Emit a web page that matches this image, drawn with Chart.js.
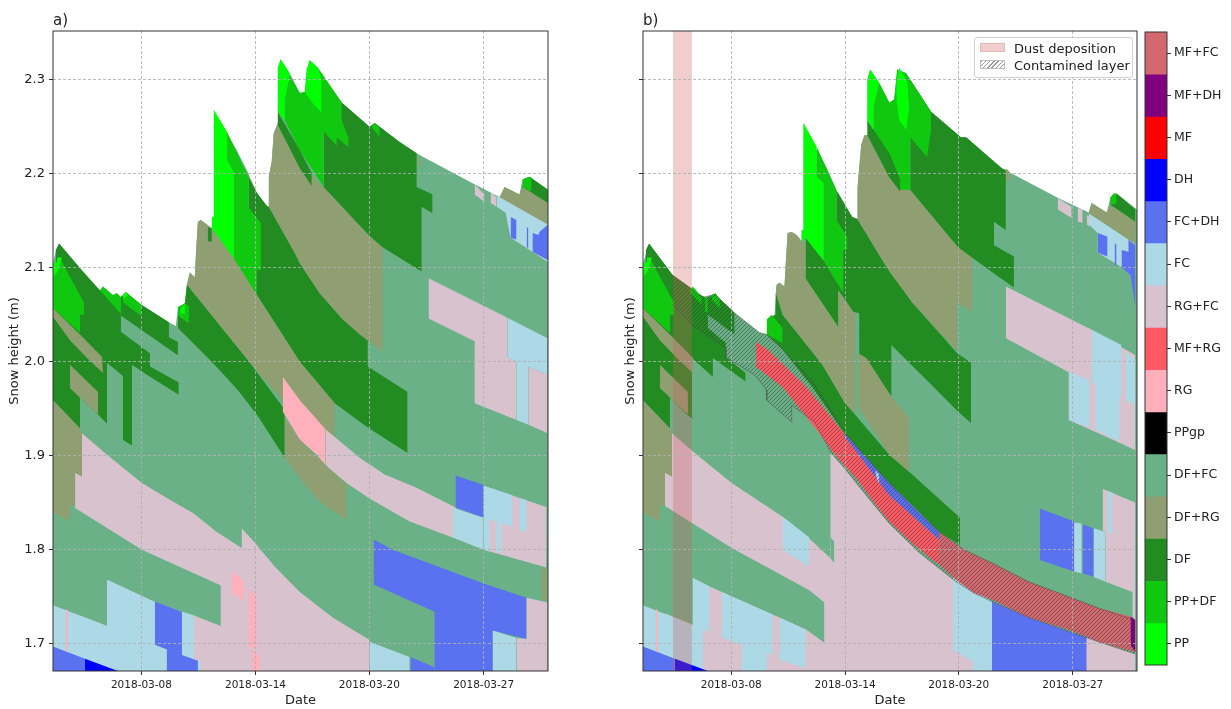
<!DOCTYPE html>
<html>
<head>
<meta charset="utf-8">
<title>Snow stratigraphy</title>
<script src="https://cdn.jsdelivr.net/npm/chart.js@4/dist/chart.umd.js"></script>
<style>
    html, body { margin: 0; padding: 0; background: #fff; width: 1231px; height: 709px; overflow: hidden; }
    canvas { position: absolute; top: 0; }
    #chart-a { left: 0; }
    #chart-b { left: 590px; }
    #chart-bar { left: 1140px; }
    #legend {
        position: absolute; left: 974px; top: 37px; width: 157px; height: 39px;
        background: rgba(255, 255, 255, 0.85); border: 1px solid #d0d0d0; border-radius: 3px;
        font: 13px "DejaVu Sans", sans-serif; color: #222;
    }
    #legend div { position: absolute; left: 39px; white-space: nowrap; }
    #legend span { position: absolute; left: 5px; width: 25px; height: 9px; border: 1px solid #bbb; box-sizing: border-box; }
</style>
</head>
<body>
<canvas id="chart-a" width="560" height="709"></canvas>
<canvas id="chart-b" width="560" height="709"></canvas>
<canvas id="chart-bar" width="91" height="709"></canvas>
<div id="legend">
    <span style="top:5px;background:rgba(205,92,92,0.3);border-color:rgba(205,92,92,0.2)"></span><div style="top:3px">Dust deposition</div>
    <span style="top:22px;background:repeating-linear-gradient(135deg,#999 0 1px,#fff 1px 3px)"></span><div style="top:20px">Contamined layer</div>
</div>
<script>
// grain types of the colour bar, bottom to top
const grainTypes = ['PP', 'PP+DF', 'DF', 'DF+RG', 'DF+FC', 'PPgp', 'RG', 'MF+RG', 'RG+FC', 'FC', 'FC+DH', 'DH', 'MF', 'MF+DH', 'MF+FC'];
const grainColors = ['#00ff00', '#10c810', '#228b22', '#8f9f72', '#6ab187', '#000000', '#ffb0bb', '#ff5a64', '#d8c2ce', '#add8e6', '#5a72f0', '#0000ff', '#ff0000', '#800080', '#d2696e'];

// x = 3-hourly time step, y = snow height (m)
const xTickSteps = [39.3, 90, 140.6, 191.4];
const xTickLabels = ['2018-03-08', '2018-03-14', '2018-03-20', '2018-03-27'];
const yTickValues = [1.7, 1.8, 1.9, 2.0, 2.1, 2.2, 2.3];
const dustStepsB = [13.3, 21.8];

const surfaceA = [0,2.105, 1.3,2.119, 2.7,2.126, 13.3,2.096, 20.9,2.076, 22.2,2.080, 26.6,2.071, 28.4,2.073, 30.2,2.069, 32.4,2.074, 39.1,2.061, 51.5,2.042, 54.6,2.038, 55.5,2.058, 58.6,2.062, 59.5,2.082, 60.8,2.095, 63,2.090, 63.5,2.114, 64.4,2.149, 65.7,2.151, 68.4,2.146, 70.6,2.142, 70.6,2.154, 71.5,2.154, 71.5,2.268, 75.5,2.250, 81.7,2.225, 86.1,2.204, 90.6,2.180, 95,2.166, 95.9,2.165, 95.9,2.197, 97.2,2.213, 98.1,2.243, 99.9,2.254, 99.9,2.313, 101.2,2.322, 105.2,2.307, 109.7,2.286, 111.9,2.287, 112.8,2.311, 114.1,2.321, 117.7,2.313, 128.3,2.276, 140.7,2.250, 143,2.254, 154.1,2.234, 162.9,2.220, 186.5,2.190, 198.5,2.175, 200.7,2.186, 207.3,2.178, 208.7,2.194, 211.8,2.197, 220,2.183];
const surfaceB = [0,2.105, 2.7,2.126, 13.3,2.092, 20.9,2.079, 24.4,2.071, 27.5,2.069, 32,2.072, 40.8,2.052, 51.9,2.031, 55.1,2.029, 55.5,2.045, 58.6,2.050, 59.5,2.082, 60.8,2.084, 63,2.080, 63.5,2.102, 64.4,2.137, 66.2,2.138, 68.4,2.135, 70.6,2.128, 70.6,2.140, 71.5,2.140, 71.5,2.254, 75.5,2.233, 81.7,2.207, 87.5,2.175, 93.2,2.154, 95.5,2.152, 95.5,2.185, 97.2,2.231, 98.6,2.241, 99.9,2.241, 99.9,2.300, 101.2,2.311, 105.2,2.297, 109.7,2.276, 111.9,2.279, 113.2,2.311, 117.2,2.307, 128.3,2.266, 141.6,2.239, 143.9,2.239, 159.8,2.206, 185.1,2.174, 198.5,2.159, 199.8,2.169, 206.5,2.159, 208.2,2.175, 210.9,2.179, 220,2.162];

// layers common to both panels at the start of the season: [type, upper edge, lower edge]
const earlyLayers = [
    ['FC+DH', [0,1.697, 14.2,1.684]],
    ['DH', [14.2,1.684, 28.9,1.671]],
    ['RG', [5.8,1.737, 6.7,1.735], [5.8,1.692, 6.7,1.691]],
    ['DF+RG', [0,1.959, 12,1.929, 12.9,1.924], [0,1.840, 7.5,1.830, 7.5,1.848, 9.8,1.846, 9.8,1.882, 12.9,1.878]],
    ['DF+RG', [0,2.057, 12,2.029, 21.8,2.005, 22.2,2.005], [0,2.048, 7.5,2.023, 15.1,2.004, 22.2,1.988]],
    ['DF+RG', [7.5,1.997, 20,1.968], [7.5,1.972, 20,1.944]],
    ['PP+DF', [0,2.090, 1.8,2.095, 3.1,2.111, 5.8,2.098, 13.8,2.063, 13.8,2.050], [0,2.057, 12,2.031, 12,2.050, 13.8,2.050]],
    ['PP', [0,2.105, 1.8,2.106, 1.8,2.111, 4,2.111], [0,2.090, 1.8,2.095, 4,2.111]]
];

const layersA = [
    ['DF+FC', surfaceA],
    ['RG+FC', [9.8,1.882, 12.9,1.878, 12.9,1.924, 24,1.901, 39.5,1.871, 50.6,1.855, 62.2,1.839, 72.8,1.819, 83.9,1.802, 83.9,1.823, 90.6,1.805, 98.6,1.782, 109.7,1.755, 124.3,1.728, 140.7,1.704]],
    ['DF+FC', [0,1.839, 7.5,1.830, 7.5,1.848, 39.5,1.800, 74.6,1.762], [0,1.741, 24,1.719, 24,1.768, 44.8,1.745, 57.3,1.734, 62.6,1.730, 74.6,1.719]],
    ['FC', [0,1.741, 24,1.719, 24,1.768, 44.8,1.745, 57.3,1.734, 62.6,1.730]],
    ['FC', [64.4,1.682, 65.7,1.681]],
    ['FC+DH', [45.3,1.745, 57.3,1.734, 57.3,1.688, 64.4,1.682], [45.3,1.699, 50.6,1.694, 50.6,1.671, 64.4,1.671]],
    ['RG', [79.5,1.778, 84.8,1.766], [79.5,1.754, 84.8,1.745]],
    ['RG', [87,1.759, 90.6,1.750], [87,1.696, 90.6,1.696]],
    ['RG', [88.4,1.696, 91.9,1.685]],
    ['DF', [0,2.082, 1.3,2.098, 1.3,2.119, 2.7,2.126, 13.3,2.096, 20.9,2.076, 30.2,2.061, 30.2,2.032, 43.1,2.009], [0,1.959, 12,1.929, 12,1.962, 20,1.944, 24,1.934, 24,1.999, 31.1,1.985, 31.1,1.917, 35.1,1.911, 35.1,1.997, 43.1,1.984]],
    ['DF', [43.1,1.995, 55.9,1.978], [43.1,1.984, 55.9,1.965]],
    ['DF', [30.2,2.069, 32.4,2.074, 39.1,2.061, 51.5,2.042, 51.5,2.026, 55.5,2.021], [30.2,2.049, 55.5,2.007]],
    ...earlyLayers,
    ['PP+DF', [20.9,2.076, 22.2,2.080, 26.6,2.071, 28.4,2.073, 30.2,2.069], [20.9,2.076, 30.2,2.051]],
    ['PP+DF', [31.1,2.071, 32.4,2.074, 39.1,2.061], [31.1,2.063, 39.1,2.049]],
    ['PP', [31.1,2.071, 32.4,2.074, 33.3,2.071], [31.1,2.066, 33.3,2.071]],
    ['DF', [87,2.196, 90.6,2.180, 95,2.166, 95.9,2.165, 107.4,2.116, 109.7,2.105, 118.5,2.073, 128.8,2.045, 139.9,2.023, 139.9,1.995, 157.6,1.968], [87,2.108, 90.6,2.071, 109.7,2.000, 125.2,1.956, 139.9,1.930, 157.6,1.903]],
    ['DF+RG', [59.5,2.082, 60.8,2.095, 63,2.090, 63.5,2.114, 64.4,2.149, 65.7,2.151, 68.4,2.146, 70.6,2.142, 80.4,2.110, 90.6,2.071, 109.7,2.000, 125.2,1.956, 125.2,1.920], [59.5,2.082, 87.5,1.999, 102.1,1.959, 109.7,1.938, 121.2,1.928, 125.2,1.920]],
    ['DF', [68.8,2.143, 70.6,2.142], [68.8,2.128, 70.6,2.128]],
    ['DF', [55.5,2.058, 58.6,2.062, 59.5,2.082, 87.5,1.999, 102.1,1.952, 103,1.949], [55.5,2.036, 71,1.999, 82.1,1.970, 90.6,1.944, 103,1.898]],
    ['PP+DF', [55.5,2.058, 58.6,2.062, 60.4,2.059], [55.5,2.049, 60.4,2.041]],
    ['PP', [56.8,2.056, 58.6,2.062], [56.8,2.052, 58.6,2.051]],
    ['RG+FC', [121.2,1.928, 136.3,1.898, 147.4,1.880, 161.6,1.866, 178.9,1.845], [121.2,1.890, 130.5,1.871, 140.3,1.855, 158.5,1.830, 177.6,1.813, 178.9,1.812]],
    ['RG', [102.1,1.984, 109.7,1.959, 121.2,1.928], [102.1,1.947, 109.7,1.917, 117.2,1.901, 121.2,1.890]],
    ['DF+RG', [103,1.941, 109.7,1.917, 121.2,1.890, 130.5,1.869], [103,1.899, 109.7,1.876, 118.5,1.851, 130.5,1.832]],
    ['DF+RG', [95.9,2.165, 95.9,2.197, 97.2,2.213, 98.1,2.243, 99.9,2.254, 109.7,2.206, 115,2.199, 120.3,2.186, 140.3,2.135, 146.5,2.122], [95.9,2.165, 107.4,2.116, 109.7,2.105, 118.5,2.073, 128.8,2.045, 136.3,2.029, 146.5,2.011]],
    ['DF', [120.3,2.303, 128.3,2.276, 140.7,2.250, 143,2.254, 154.1,2.234, 161.6,2.222, 161.6,2.186, 168.7,2.178], [120.3,2.186, 140.3,2.135, 146.5,2.122, 163.8,2.096, 163.8,2.165, 168.7,2.158]],
    ['PP+DF', [103,2.279, 105.2,2.305, 109.7,2.286, 111.9,2.287, 114.1,2.321, 117.7,2.313, 128.3,2.276, 128.3,2.257, 131.4,2.238], [103,2.257, 109.7,2.225, 120.3,2.186, 120.3,2.245, 126.1,2.230, 126.1,2.239, 131.4,2.228]],
    ['DF', [99.9,2.266, 109.7,2.225, 115,2.201], [99.9,2.252, 109.7,2.206, 115,2.187]],
    ['PP', [99.9,2.313, 101.2,2.322, 105.2,2.307], [99.9,2.266, 103,2.257, 103,2.279, 105.2,2.305]],
    ['PP', [111.9,2.287, 112.8,2.311, 114.1,2.321, 117.7,2.313, 119.4,2.300], [111.9,2.287, 115.4,2.275, 119.4,2.265]],
    ['PP+DF', [141.6,2.251, 143,2.254, 145.2,2.249], [141.6,2.250, 145.2,2.239]],
    ['DF+RG', [162.5,2.220, 163.4,2.219], [162.5,2.207, 163.4,2.207]],
    ['PP+DF', [77.3,2.245, 87,2.196, 87,2.164, 92.4,2.148], [77.3,2.215, 80.4,2.201, 80.4,2.110, 90.6,2.071, 90.6,2.098, 92.4,2.098]],
    ['PP', [70.6,2.154, 71.5,2.154, 71.5,2.268, 77.3,2.245, 77.3,2.215, 80.4,2.201], [70.6,2.142, 80.4,2.110]],
    ['FC+DH', [142.5,1.811, 151,1.800, 191.4,1.764, 210.5,1.749], [142.5,1.763, 169.6,1.734, 169.6,1.671, 195.4,1.671, 195.4,1.714, 210.5,1.705]],
    ['FC+DH', [158.9,1.686, 169.6,1.675]],
    ['FC', [140.7,1.702, 158.5,1.686]],
    ['FC', [195.4,1.714, 206,1.706]],
    ['RG+FC', [206,1.706, 210.5,1.705, 210.5,1.749, 219.8,1.744]],
    ['RG+FC', [191.4,1.868, 219.8,1.845], [191.4,1.800, 219.3,1.781]],
    ['FC+DH', [178.9,1.879, 191.4,1.869], [178.9,1.845, 191.4,1.834]],
    ['FC', [177.6,1.845, 191.4,1.834], [177.6,1.813, 191.4,1.800]],
    ['FC', [191.4,1.868, 204.2,1.858], [191.4,1.800, 194,1.798, 194,1.832, 197.1,1.830, 197.1,1.797, 199.4,1.797, 199.4,1.829, 204.2,1.824]],
    ['FC', [207.3,1.855, 210.5,1.853], [207.3,1.821, 210.5,1.819]],
    ['DF+RG', [217.1,1.781, 219.3,1.779], [217.1,1.747, 219.3,1.745]],
    ['RG+FC', [166.9,2.089, 202,2.047, 202,2.005, 206,2.000], [166.9,2.046, 187.4,2.022, 187.4,1.956, 206,1.938]],
    ['FC', [202,2.047, 219.8,2.025], [202,2.005, 206,2.000, 206,1.938, 211.3,1.933, 211.3,1.995, 219.8,1.986]],
    ['RG+FC', [211.3,1.995, 219.8,1.986], [211.3,1.933, 219.8,1.924]],
    ['RG+FC', [187.4,2.189, 191.8,2.178], [187.4,2.178, 191.8,2.170]],
    ['RG+FC', [194.5,2.181, 197.1,2.175], [194.5,2.169, 197.1,2.165]],
    ['FC', [197.1,2.178, 220,2.146], [197.1,2.165, 201.1,2.159, 203.4,2.132, 213.1,2.117, 220,2.106]],
    ['DF+RG', [198.5,2.175, 200.7,2.186, 207.3,2.178, 208.7,2.186, 220,2.169], [198.5,2.175, 220,2.146]],
    ['DF', [208.7,2.186, 208.7,2.194, 211.8,2.197, 220,2.183], [208.7,2.186, 220,2.169]],
    ['PP+DF', [208.7,2.194, 211.8,2.197, 212.7,2.196], [208.7,2.186, 212.7,2.181]],
    ['FC+DH', [203.4,2.154, 206,2.151], [203.4,2.132, 206,2.130]],
    ['FC+DH', [210.5,2.143, 211.3,2.143], [210.5,2.122, 211.3,2.121]],
    ['FC+DH', [213.1,2.137, 215.8,2.135, 216.2,2.138, 220,2.146], [213.1,2.117, 220,2.108]]
];

const layersB = [
    ['DF+FC', surfaceB],
    ['RG+FC', [9.8,1.882, 12.9,1.878, 12.9,1.924, 24,1.901, 39.5,1.871, 62.2,1.835, 74.1,1.812, 83.5,1.791, 83.5,1.903, 89.7,1.887, 95,1.871, 102.1,1.850, 109.7,1.828, 123,1.797, 139.4,1.766, 147.4,1.754, 155.4,1.745, 171.8,1.728, 189.6,1.713, 202.9,1.702, 219.3,1.689]],
    ['DF+FC', [83.5,1.814, 85.2,1.808], [83.5,1.791, 85.2,1.786]],
    ['FC', [62.2,1.835, 74.1,1.813], [62.2,1.800, 74.1,1.782]],
    ['DF+FC', [0,1.839, 7.5,1.830, 7.5,1.850, 39.5,1.802, 74.1,1.757, 80.8,1.744], [0,1.741, 13.3,1.729, 22.2,1.720, 22.2,1.770, 29.7,1.761, 35.1,1.755, 57.7,1.731, 60.8,1.728, 72.8,1.715, 80.8,1.701]],
    ['FC', [0,1.741, 22.2,1.720, 22.2,1.770, 29.7,1.761], [0,1.671, 26.6,1.671, 26.6,1.715, 29.7,1.713]],
    ['FC', [35.1,1.755, 57.7,1.731], [35.1,1.707, 44,1.699, 44,1.671, 55.1,1.671, 55.1,1.690, 57.7,1.688]],
    ['FC', [60.8,1.728, 72.4,1.715], [60.8,1.683, 72.4,1.674]],
    ['DF', [0,2.082, 1.3,2.098, 1.3,2.119, 2.7,2.126, 13.3,2.092, 20.9,2.079, 28.9,2.066, 28.9,2.036, 36.9,2.020, 36.9,2.005, 45.7,1.988], [0,1.959, 12,1.929, 12,1.962, 19.5,1.944, 21.8,1.940, 21.8,2.004, 31.1,1.984, 31.1,2.004, 45.7,1.979]],
    ['DF', [28.9,2.068, 32,2.072, 40.8,2.052], [28.9,2.050, 40.8,2.029]],
    ...earlyLayers,
    ['PP+DF', [20.9,2.076, 22.2,2.080, 26.2,2.069], [20.9,2.074, 26.2,2.061]],
    ['PP+DF', [30.6,2.071, 32.4,2.073, 34.2,2.066], [30.6,2.066, 34.2,2.057]],
    ['PP+DF', [27.5,2.069, 28.9,2.069], [27.5,2.053, 28.9,2.053]],
    ['DF', [55.1,2.045, 59.1,2.050, 59.1,2.074, 62.2,2.050, 79.9,1.997, 89.7,1.957, 109.7,1.901, 118.5,1.883, 140.7,1.835, 141.2,1.835], [55.1,2.029, 62.2,2.013, 75.5,1.973, 89.7,1.924, 111,1.866, 131.9,1.819, 141.2,1.805]],
    ['PP+DF', [55.1,2.045, 57.3,2.050, 62.2,2.036], [55.1,2.029, 62.2,2.020]],
    ['DF', [86.1,2.183, 93.2,2.154, 95.5,2.152, 107.9,2.103, 109.7,2.098, 119.9,2.063, 131.9,2.031, 139.9,2.009, 146.1,1.999], [86.1,2.079, 93.7,2.053, 96.3,2.052, 96.3,2.005, 110.6,1.963, 110.6,2.018, 127.4,1.978, 140.7,1.946, 146.1,1.935]],
    ['DF+RG', [59.1,2.074, 59.5,2.082, 60.8,2.084, 63,2.080, 63.5,2.102, 64.4,2.137, 66.2,2.138, 68.4,2.135, 72.4,2.124, 72.4,2.089, 87,2.037, 87,2.076, 93.7,2.053, 94.6,2.052], [59.1,2.074, 62.2,2.050, 79.9,1.997, 89.7,1.957, 94.6,1.944]],
    ['DF+RG', [95.9,2.009, 99.5,2.004, 110.6,1.963, 118.5,1.940], [95.9,1.952, 109.7,1.901, 118.5,1.883]],
    ['DF', [72.4,2.132, 80.4,2.108, 87,2.082], [72.4,2.089, 87,2.037]],
    ['DF+RG', [95.5,2.152, 95.5,2.185, 97.2,2.231, 98.6,2.241, 99.9,2.241, 109.7,2.196, 114.6,2.194, 119,2.183, 140.3,2.122, 146.5,2.111], [95.5,2.152, 107.9,2.103, 109.7,2.096, 119.9,2.063, 139.9,2.011, 139.9,2.063, 146.5,2.053]],
    ['DF', [119,2.300, 128.3,2.266, 141.6,2.239, 143.9,2.239, 159.8,2.206, 161.6,2.204], [119,2.183, 140.3,2.122, 156.3,2.094, 156.3,2.149, 161.6,2.140]],
    ['DF', [156.3,2.124, 165.2,2.112], [156.3,2.094, 165.2,2.079]],
    ['PP+DF', [102.6,2.271, 105.2,2.297, 109.7,2.276, 111.9,2.279, 113.2,2.311, 117.2,2.307, 128.3,2.266], [102.6,2.247, 109.7,2.209, 114.6,2.183, 119,2.183, 119,2.239, 126.5,2.218, 128.3,2.247]],
    ['DF', [99.9,2.257, 109.7,2.222, 114.6,2.194], [99.9,2.241, 109.7,2.196, 114.6,2.181]],
    ['PP', [99.9,2.300, 101.2,2.311, 105.2,2.297], [99.9,2.257, 102.6,2.247, 102.6,2.271, 105.2,2.297]],
    ['PP', [112.8,2.297, 114.1,2.313, 117.7,2.298, 118.5,2.270], [112.8,2.279, 114.1,2.257, 117.2,2.247, 118.5,2.270]],
    ['PP+DF', [77.3,2.229, 86.1,2.183, 86.1,2.151, 91,2.133], [77.3,2.197, 80.4,2.190, 80.4,2.108, 89.2,2.073, 89.2,2.119, 91,2.119]],
    ['PP', [70.6,2.140, 71.5,2.140, 71.5,2.254, 77.3,2.229, 77.3,2.197, 80.4,2.190], [70.6,2.128, 72.4,2.132, 80.4,2.108]],
    ['DF+RG', [161.6,2.206, 163.4,2.202], [161.6,2.193, 163.4,2.193]],
    ['RG+FC', [161.6,2.080, 199.8,2.034, 214.9,2.013, 219.3,2.007], [161.6,2.025, 189.6,1.989, 189.6,1.938, 212.2,1.914, 219.3,1.906]],
    ['FC', [199.8,2.034, 213.1,2.018], [199.8,1.979, 201.6,1.975, 201.6,1.928, 212.2,1.915, 212.2,1.963, 213.1,1.965]],
    ['FC', [189.6,1.989, 198.9,1.981], [189.6,1.938, 198.9,1.930]],
    ['FC', [214.9,2.011, 219.3,2.002], [214.9,1.959, 219.3,1.954]],
    ['FC+DH', [176.7,1.844, 192,1.830], [176.7,1.789, 192,1.777]],
    ['FC', [192,1.829, 195.4,1.828], [192,1.777, 195.4,1.775]],
    ['FC+DH', [195.8,1.827, 200.7,1.823], [195.8,1.775, 200.7,1.771]],
    ['RG+FC', [204.7,1.865, 219.3,1.850], [204.7,1.820, 206,1.819, 206,1.766, 218,1.755, 218,1.729, 219.3,1.725]],
    ['FC', [200.7,1.823, 206,1.819], [200.7,1.771, 206,1.766]],
    ['FC', [206.9,1.862, 209.1,1.861], [206.9,1.818, 209.1,1.817]],
    ['FC', [198.5,2.158, 216.2,2.132, 219.3,2.125], [198.5,2.146, 202.5,2.137, 202.5,2.116, 213.1,2.101, 219.3,2.092]],
    ['DF+RG', [198.5,2.159, 199.8,2.169, 206.5,2.159, 208.2,2.167, 219.3,2.149], [198.5,2.158, 219.3,2.125]],
    ['DF', [208.2,2.175, 210.9,2.179, 219.3,2.162], [208.2,2.167, 219.3,2.149]],
    ['PP+DF', [208.2,2.175, 209.6,2.179, 210.9,2.179], [208.2,2.168, 210.9,2.168]],
    ['RG+FC', [184.7,2.174, 190.9,2.165], [184.7,2.162, 190.9,2.153]],
    ['RG+FC', [193.6,2.164, 195.8,2.162], [193.6,2.149, 195.8,2.148]],
    ['RG+FC', [197.6,2.156, 198.9,2.155], [197.6,2.146, 198.9,2.144]],
    ['FC+DH', [202.5,2.137, 206.9,2.133], [202.5,2.116, 206.9,2.112]],
    ['FC+DH', [210,2.126, 210.9,2.125], [210,2.103, 210.9,2.102]],
    ['FC+DH', [213.1,2.119, 216.2,2.117, 216.2,2.130, 219.3,2.124], [213.1,2.101, 217.1,2.092, 219.3,2.058]],
    ['FC', [138.1,1.771, 155.4,1.745], [138.1,1.693, 147,1.681, 147,1.671, 155.4,1.671]],
    ['FC+DH', [155.4,1.745, 171.8,1.728, 189.6,1.713, 197.6,1.707], [155.4,1.671, 197.6,1.671]],
    ['MF+RG', [50.2,2.021, 55.5,2.013, 72.8,1.973, 81.7,1.947, 90.6,1.920, 99.9,1.890, 109.7,1.861, 120.8,1.834, 131.9,1.811], [50.2,1.995, 62.2,1.973, 78.6,1.924, 83.9,1.906, 89.7,1.890, 95,1.876, 102.1,1.853, 109.7,1.830, 120.8,1.805, 131.9,1.784]],
    ['FC+DH', [89.7,1.924, 109.7,1.871, 131.9,1.819], [89.7,1.921, 109.7,1.858, 131.9,1.811]],
    ['FC', [103.5,1.885, 105.2,1.880], [103.5,1.880, 105.2,1.870]],
    ['MF+FC', [131.9,1.819, 143,1.800, 155.4,1.786, 171.8,1.766, 189.6,1.750, 202.9,1.738, 217.1,1.729, 219.3,1.725], [131.9,1.784, 139.4,1.768, 147.4,1.754, 155.4,1.747, 171.8,1.728, 189.6,1.715, 202.9,1.702, 219.3,1.691]],
    ['MF+DH', [217.1,1.729, 219.3,1.725], [217.1,1.699, 219.3,1.691]]
];

const hatchTopB = [13.3,2.092, 20.9,2.079, 24.4,2.071, 27.5,2.069, 32,2.072, 40.8,2.052, 51.9,2.031, 55.1,2.029, 62.2,2.013, 75.5,1.979, 83,1.951, 89.7,1.925, 99.5,1.898, 109.7,1.871, 120.8,1.842, 131.9,1.819, 143,1.800, 155.4,1.786, 171.8,1.766, 189.6,1.750, 202.9,1.738, 219.3,1.725];
const hatchBottomB = [13.3,2.061, 15.5,2.055, 21.8,2.039, 36.9,2.015, 36.9,2.005, 49.7,1.986, 55.1,1.970, 55.1,1.959, 66.2,1.936, 66.2,1.954, 76.4,1.936, 83.9,1.903, 89.7,1.887, 95,1.871, 102.1,1.850, 109.7,1.828, 123,1.797, 139.4,1.766, 147.4,1.754, 155.4,1.745, 171.8,1.728, 189.6,1.713, 202.9,1.702, 219.3,1.689];

function toPoints(flat) {
    const pts = [];
    for (let i = 0; i < flat.length; i += 2) {
        pts.push({ x: flat[i], y: flat[i + 1] });
    }
    return pts;
}

function hatchPattern() {
    const tile = document.createElement('canvas');
    tile.width = 4;
    tile.height = 4;
    const c = tile.getContext('2d');
    c.strokeStyle = 'rgba(50, 50, 50, 0.5)';
    c.lineWidth = 1;
    c.beginPath();
    c.moveTo(-1, 5); c.lineTo(5, -1);
    c.moveTo(-1, 1); c.lineTo(1, -1);
    c.moveTo(3, 5); c.lineTo(5, 3);
    c.stroke();
    return c.createPattern(tile, 'repeat');
}

// one dataset per edge, the upper edge fills down to the lower one (or to the axis)
function layerDatasets(layers) {
    const sets = [];
    layers.forEach((layer) => {
        const color = grainColors[grainTypes.indexOf(layer[0])];
        sets.push({ data: toPoints(layer[1]), backgroundColor: color, fill: layer[2] ? '+1' : 'start', borderWidth: 0 });
        if (layer[2]) {
            sets.push({ data: toPoints(layer[2]), fill: false, borderWidth: 0 });
        }
    });
    return sets;
}

const framePlugin = {
    id: 'frame',
    afterDraw(chart) {
        const a = chart.chartArea;
        const c = chart.ctx;
        c.save();
        c.strokeStyle = '#333';
        c.lineWidth = 1;
        c.strokeRect(a.left, a.top, a.right - a.left, a.bottom - a.top);
        c.restore();
    }
};

function buildPanel(canvasId, title, datasets, showYLabels, yTitlePad, rightPad) {
    datasets.forEach((d, i) => { d.order = -i; d.pointRadius = 0; d.tension = 0; });
    return new Chart(document.getElementById(canvasId), {
        type: 'line',
        data: { datasets },
        options: {
            responsive: false,
            animation: false,
            events: [],
            layout: { padding: { right: rightPad } },
            plugins: {
                legend: { display: false },
                tooltip: { enabled: false },
                title: {
                    display: true, text: title, align: 'start', fullSize: false, color: '#222',
                    font: { family: 'DejaVu Sans', size: 15, weight: 'normal' },
                    padding: { top: 12, bottom: 1 }
                }
            },
            scales: {
                x: {
                    type: 'linear', min: 0, max: 220,
                    afterBuildTicks: (scale) => { scale.ticks = xTickSteps.map(v => ({ value: v })); },
                    afterFit: (scale) => { scale.height = 38; },
                    ticks: {
                        autoSkip: false, maxRotation: 0, color: '#222', padding: 4,
                        font: { family: 'DejaVu Sans', size: 10.5 },
                        callback: (v) => xTickLabels[xTickSteps.indexOf(v)]
                    },
                    grid: { z: 1, color: 'rgba(176,176,176,0.85)', tickColor: '#333', tickLength: 4, tickBorderDash: [] },
                    border: { display: false, dash: [3, 2] },
                    title: {
                        display: true, text: 'Date', color: '#222',
                        font: { family: 'DejaVu Sans', size: 13 }, padding: { top: 0, bottom: 1 }
                    }
                },
                y: {
                    type: 'linear', min: 1.671, max: 2.352,
                    afterBuildTicks: (scale) => { scale.ticks = yTickValues.map(v => ({ value: v })); },
                    afterFit: (scale) => { scale.width = 53; },
                    ticks: {
                        color: '#222', padding: 4,
                        font: { family: 'DejaVu Sans', size: 13 },
                        callback: (v) => (showYLabels ? v.toFixed(1) : '')
                    },
                    grid: { z: 1, color: 'rgba(176,176,176,0.85)', tickColor: '#333', tickLength: 4, tickBorderDash: [] },
                    border: { display: false, dash: [3, 2] },
                    title: {
                        display: true, text: 'Snow height (m)', color: '#222',
                        font: { family: 'DejaVu Sans', size: 13 }, padding: { top: yTitlePad, bottom: 0 }
                    }
                }
            }
        },
        plugins: [framePlugin]
    });
}

function buildColorBar() {
    return new Chart(document.getElementById('chart-bar'), {
        type: 'bar',
        data: {
            labels: grainTypes,
            datasets: [{
                data: grainTypes.map(() => 1),
                backgroundColor: grainColors,
                barPercentage: 1,
                categoryPercentage: 1
            }]
        },
        options: {
            indexAxis: 'y',
            responsive: false,
            animation: false,
            events: [],
            layout: { padding: { left: 5, top: 32, bottom: 44, right: 0 } },
            plugins: { legend: { display: false }, tooltip: { enabled: false } },
            scales: {
                x: { display: false, min: 0, max: 1 },
                y: {
                    reverse: true,
                    position: 'right',
                    afterFit: (scale) => { scale.width = 64; },
                    ticks: { color: '#222', padding: 3, font: { family: 'DejaVu Sans', size: 12.5 } },
                    grid: { offset: false, drawOnChartArea: false, tickColor: '#333', tickLength: 4 },
                    border: { display: false }
                }
            }
        },
        plugins: [framePlugin]
    });
}

document.addEventListener('DOMContentLoaded', () => {
    buildPanel('chart-a', 'a)', layerDatasets(layersA), true, 7, 12);

    const setsB = layerDatasets(layersB);
    setsB.push({
        data: toPoints(hatchTopB), fill: '+1', backgroundColor: hatchPattern(),
        borderColor: 'rgba(70,70,70,0.45)', borderWidth: 1
    });
    setsB.push({ data: toPoints(hatchBottomB), fill: false, borderColor: 'rgba(70,70,70,0.45)', borderWidth: 1 });
    setsB.push({
        data: [{ x: dustStepsB[0], y: 2.352 }, { x: dustStepsB[1], y: 2.352 }],
        fill: 'start', backgroundColor: 'rgba(205,92,92,0.3)', borderWidth: 0
    });
    buildPanel('chart-b', 'b)', setsB, false, 33, 13);

    buildColorBar();
});
</script>
</body>
</html>
